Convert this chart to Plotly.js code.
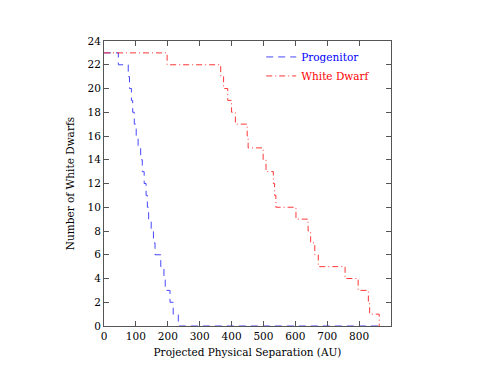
<!DOCTYPE html>
<html>
<head>
<meta charset="utf-8">
<script src="https://cdn.plot.ly/plotly-3.0.1.min.js"></script>
<style>html,body{margin:0;padding:0;background:#fff;}#chart{width:495px;height:368px;}</style>
</head>
<body>
<div id="chart"></div>
<script>
// Step positions (AU) where the cumulative count drops, and the count after each drop
const progenitorSep = [0, 45, 76, 80, 86, 90, 95, 101, 107, 115, 120, 126, 132, 136, 140, 148, 155, 160, 178, 188, 192, 207, 217, 233, 870];
const progenitorCount = [23, 22, 21, 20, 19, 18, 17, 16, 15, 14, 13, 12, 11, 10, 9, 8, 7, 6, 5, 4, 3, 2, 1, 0, 0];
const whiteDwarfSep = [0, 198, 366, 375, 388, 400, 412, 449, 452, 499, 508, 531, 535, 539, 602, 640, 648, 661, 672, 756, 797, 829, 833, 863];
const whiteDwarfCount = [23, 22, 21, 20, 19, 18, 17, 16, 15, 14, 13, 12, 11, 10, 9, 8, 7, 6, 5, 4, 3, 2, 1, 0];
const xTicks = [0, 100, 200, 300, 400, 500, 600, 700, 800];
const yTicks = [0, 2, 4, 6, 8, 10, 12, 14, 16, 18, 20, 22, 24];

const font = {family: "DejaVu Serif", size: 10.5, color: "#000"};

const traces = [
  {x: progenitorSep, y: progenitorCount, mode: "lines", line: {shape: "hv", color: "#3333ff", width: 0.9, dash: "7px,5px"},
   name: '<span style="color:#0000ff">Progenitor</span>'},
  {x: whiteDwarfSep, y: whiteDwarfCount, mode: "lines", line: {shape: "hv", color: "#ff2222", width: 0.9, dash: "6px,3px,1px,3px"},
   name: '<span style="color:#ff0000">White Dwarf</span>'}
];

const axisCommon = {showgrid: false, zeroline: false, showline: true, linecolor: "#555", linewidth: 1, mirror: "allticks",
  ticks: "inside", ticklen: 5, tickcolor: "#555", tickfont: font};

const layout = {
  width: 495, height: 368,
  margin: {l: 104, r: 104, t: 41, b: 42},
  paper_bgcolor: "#fff", plot_bgcolor: "#fff",
  font: font,
  showlegend: true,
  legend: {x: 0.945, y: 0.995, xanchor: "right", yanchor: "top", bgcolor: "rgba(0,0,0,0)", font: font, tracegroupgap: 0},
  xaxis: Object.assign({}, axisCommon, {range: [0, 900], tickvals: xTicks, ticktext: xTicks.map(String),
    title: {text: "Projected Physical Separation (AU)", font: font, standoff: 8}}),
  yaxis: Object.assign({}, axisCommon, {range: [0, 24], tickvals: yTicks, ticktext: yTicks.map(String),
    title: {text: "Number of White Dwarfs", font: font, standoff: 10}})
};

Plotly.newPlot("chart", traces, layout, {staticPlot: true, displayModeBar: false});
</script>
</body>
</html>
